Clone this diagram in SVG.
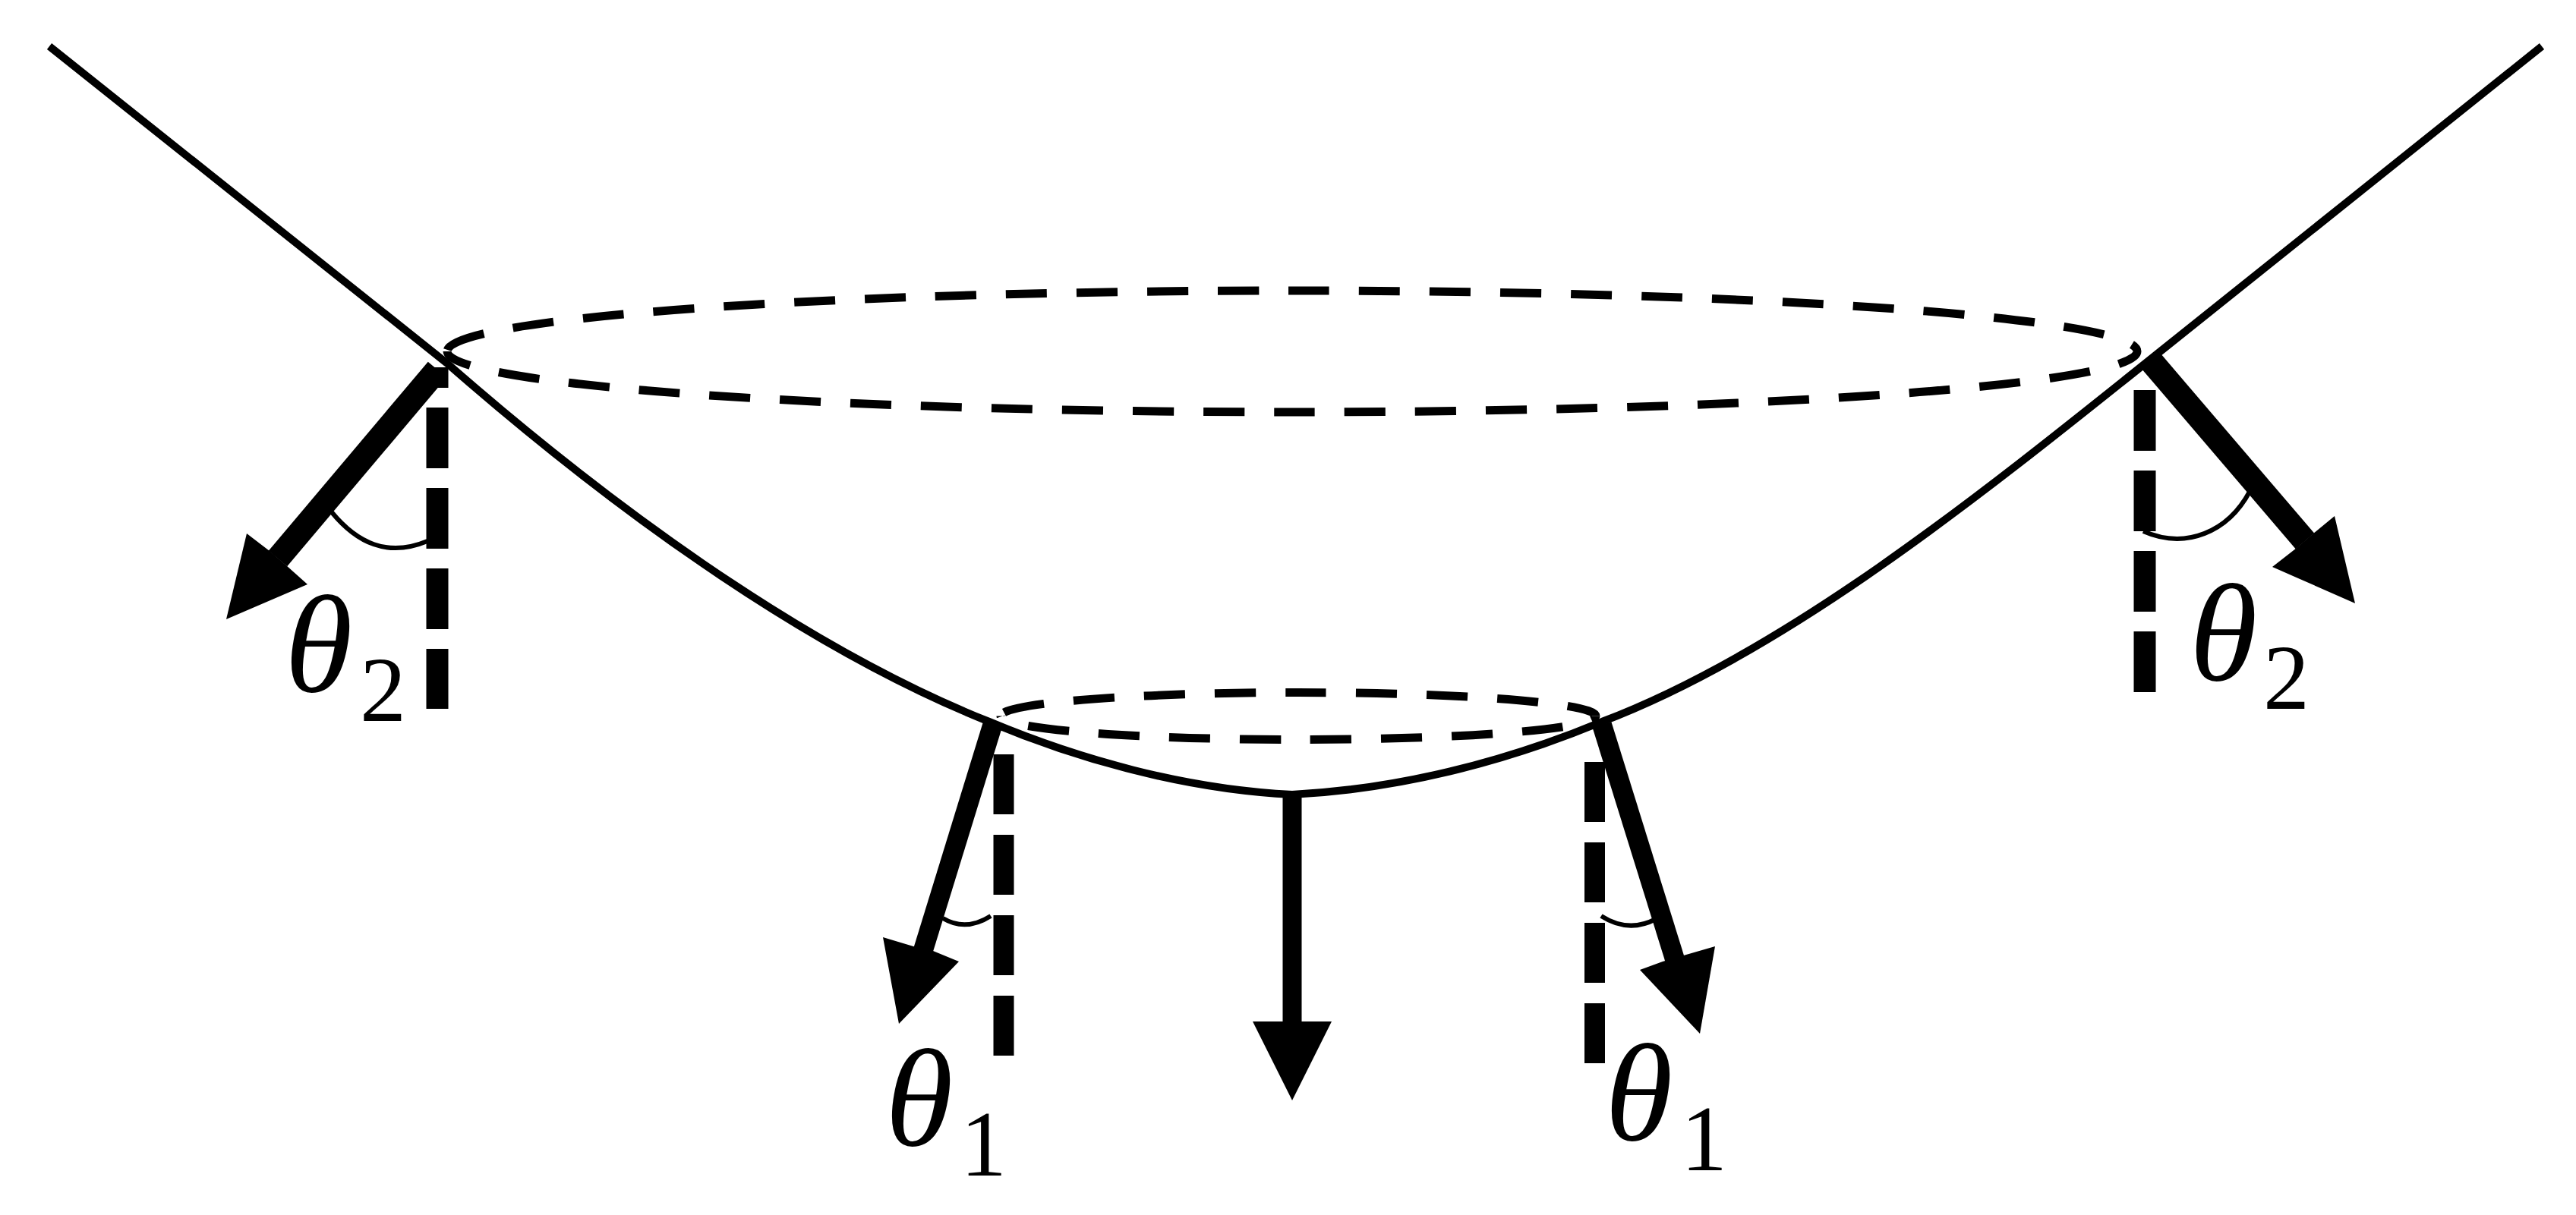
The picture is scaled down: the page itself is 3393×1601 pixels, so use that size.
<svg xmlns="http://www.w3.org/2000/svg" width="3393" height="1601" viewBox="0 0 3393 1601">
<style>
.curve{fill:none;stroke:#000;stroke-width:10}
.ring{fill:none;stroke:#000;stroke-width:11;stroke-dasharray:54 39}
.ref{fill:none;stroke:#000;stroke-width:29;stroke-dasharray:80 26}
.ref1{fill:none;stroke:#000;stroke-width:27;stroke-dasharray:79 27}
.arc{fill:none;stroke:#000;stroke-width:6}
.shaft2{fill:none;stroke:#000;stroke-width:32}
.shaft1{fill:none;stroke:#000;stroke-width:26}
.head{fill:#000}
.t{font-family:"Liberation Serif","Times New Roman",serif;font-style:italic;font-size:182px;fill:#000}
.s{font-family:"Liberation Serif","Times New Roman",serif;font-size:122px;fill:#000}
</style>
<rect width="3393" height="1601" fill="#fff"/>
<g id="surface"><path class="curve" d="M65 61L588 478C790 655 1050 850 1303 951C1420 1000 1560 1040 1702 1047C1840 1040 1980 1005 2110 951C2350 860 2600 660 2843 465L3348 61"/></g>
<g id="rings">
<path class="ring" stroke-dashoffset="91" d="M589 463A1113 80 0 0 1 2815 463"/>
<path class="ring" stroke-dashoffset="17" d="M589 463A1113 80 0 0 0 2815 463"/>
<path class="ring" stroke-dashoffset="86" d="M1318 943.5A392 31 0 0 1 2102 943.5"/>
<path class="ring" stroke-dashoffset="53" d="M1318 943.5A392 31 0 0 0 2102 943.5"/>
</g>
<g id="connectors">
<g id="verticals">
<path class="ref" d="M576 484V511"/>
<path class="ref" d="M576 537V934"/>
<path class="ref" d="M2825 514V912"/>
<path class="ref1" d="M1322 994V1391"/>
<path class="ref1" d="M2100.5 1004V1403"/>
</g>
<g id="arrow-left-2"><path class="shaft2" d="M576 487L366 736"/><polygon class="head" points="298,816 325,703 355,726 377,745 405,770"/></g>
<g id="arrow-right-2"><path class="shaft2" d="M2830 472L3036 713"/><polygon class="head" points="3102,795 3075,680 3047,703 3025,722 2993,747"/></g>
<g id="arrow-left-1"><path class="shaft1" d="M1308 953L1216 1252"/><polygon class="head" points="1184,1349 1163,1235 1203,1247 1229,1253 1263,1267"/></g>
<g id="arrow-right-1"><path class="shaft1" d="M2110 955L2206 1264"/><polygon class="head" points="2239,1362 2259,1247 2221,1258 2190,1267 2160,1278"/></g>
<g id="arrow-center"><path fill="none" stroke="#000" stroke-width="25" d="M1702 1047V1350"/><polygon class="head" points="1702,1450 1650,1346 1754,1346"/></g>
</g>
<g id="angles">
<path class="arc" d="M437 675C470 715 510 735 563 713"/>
<path class="arc" d="M2823 700C2880 725 2935 700 2963 648"/>
<path class="arc" d="M1242 1210Q1272 1228 1305 1207"/>
<path class="arc" d="M2109 1207Q2145 1230 2181 1211"/>
</g>
<g id="labels">
<text class="t" x="375" y="911">θ</text><text class="s" x="474" y="950">2</text>
<text class="t" x="2884" y="896">θ</text><text class="s" x="2981" y="934">2</text>
<text class="t" x="1166" y="1509">θ</text><text class="s" x="1265" y="1549">1</text>
<text class="t" x="2114" y="1502">θ</text><text class="s" x="2214" y="1542">1</text>
</g>
</svg>
